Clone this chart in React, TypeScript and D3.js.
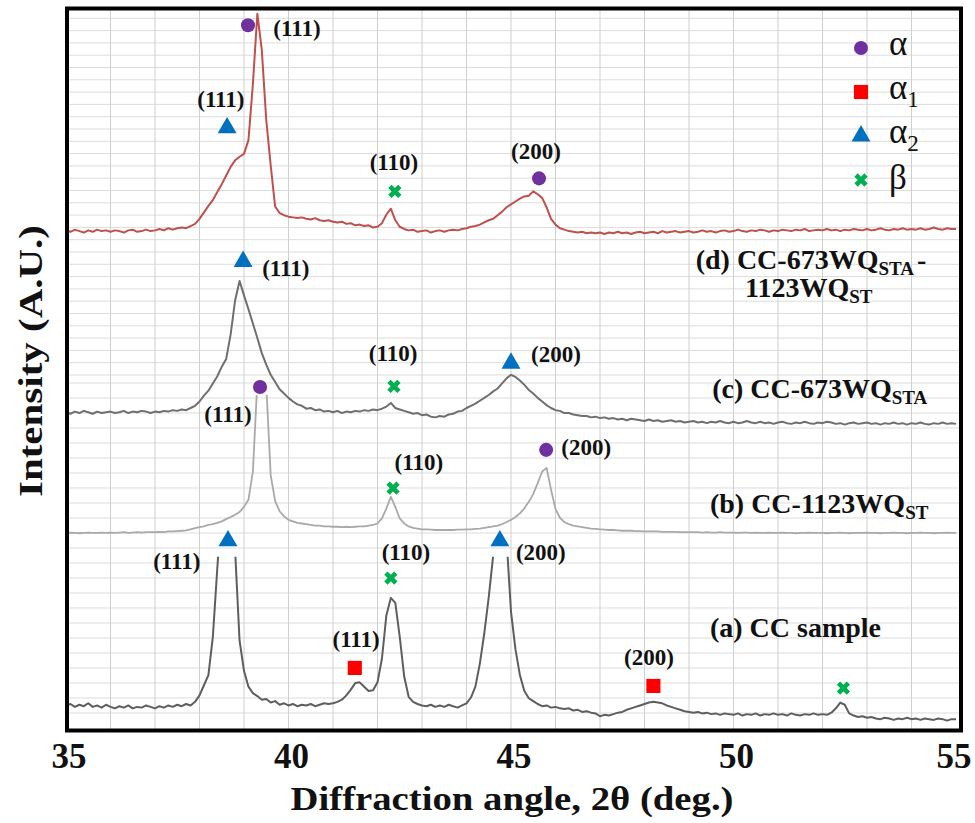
import React from "react";
import * as d3 from "d3";

// ---------- data ----------
// 2θ sampling grid (deg.)
const angles: number[] = d3.range(0, 201).map((i) => +(35 + i * 0.1).toFixed(1));

// relative intensities (A.U.), one value per 0.1°, 35.0 → 55.0
const seriesA: number[] = [
  0.0, 0.2, -0.2, 0.1, -0.1, 0.3, -0.2, 0.0, -0.3, 0.1,
  -0.2, -0.4, -0.1, -0.3, 0.0, -0.4, -0.2, -0.3, 0.0, -0.2,
  -0.4, -0.1, -0.3, 0.0, -0.2, 0.1, -0.1, 0.2, 0.0, 0.5,
  1.4, 2.8, 4.2, 9.5, 19.0, 28, 31, 28, 21.5, 9.0,
  4.8, 2.6, 1.7, 1.3, 0.8, 0.9, 0.4, 0.6, 0.1, 0.3,
  0.0, 0.2, -0.1, 0.1, 0.0, 0.2, -0.1, 0.1, 0.3, 0.2,
  0.3, 0.5, 0.8, 1.4, 2.2, 3.1, 3.2, 2.6, 2.0, 2.1,
  3.2, 6.5, 12.5, 14.9, 14.2, 9.5, 4.0, 1.2, 0.5, 0.2,
  0.0, -0.1, 0.1, -0.2, 0.0, -0.2, 0.1, -0.1, -0.3, 0.0,
  0.3, 1.1, 2.6, 5.8, 10.0, 15.0, 20.8, 28, 30, 23,
  13.0, 7.8, 4.2, 2.0, 1.0, 0.6, 0.2, -0.1, 0.0, -0.3,
  -0.2, -0.4, -0.5, -0.4, -0.7, -0.6, -0.9, -0.8, -1.0, -1.1,
  -1.5, -1.3, -1.4, -1.2, -1.0, -0.9, -0.6, -0.4, -0.2, 0.0,
  0.2, 0.4, 0.5, 0.4, 0.3, 0.0, -0.2, -0.4, -0.6, -0.8,
  -0.9, -1.0, -0.9, -1.1, -1.0, -1.2, -1.1, -1.3, -1.1, -1.2,
  -1.3, -1.1, -1.4, -1.2, -1.3, -1.1, -1.4, -1.2, -1.3, -1.1,
  -1.3, -1.2, -1.4, -1.1, -1.3, -1.4, -1.2, -1.3, -1.1, -1.3,
  -1.2, -1.3, -1.0, -0.4, 0.4, 0.1, -1.1, -1.4, -1.6, -1.5,
  -1.7, -1.6, -1.8, -1.9, -1.7, -1.8, -2.0, -1.8, -1.9, -1.7,
  -1.9, -1.8, -2.0, -1.8, -1.9, -2.0, -1.8, -1.9, -2.1, -1.9,
  -1.9,
];

const seriesB: number[] = [
  0.0, 0.05, 0.0, -0.05, 0.0, 0.05, 0.0, 0.0, 0.05, 0.0,
  0.05, 0.0, 0.05, 0.1, 0.0, 0.05, 0.1, 0.05, 0.1, 0.1,
  0.1, 0.15, 0.1, 0.2, 0.2, 0.25, 0.3, 0.35, 0.5, 0.65,
  0.8, 0.9, 1.1, 1.2, 1.4, 1.6, 1.9, 2.2, 2.5, 2.9,
  3.6, 4.6, 8.5, 21, 26, 20.5, 8.0, 4.4, 3.0, 2.3,
  1.8, 1.6, 1.4, 1.3, 1.2, 1.1, 1.0, 1.0, 0.9, 0.9,
  0.85, 0.85, 0.8, 0.85, 0.8, 0.85, 0.9, 0.9, 1.0, 1.1,
  1.3, 2.0, 3.4, 5.0, 3.6, 2.0, 1.3, 0.9, 0.7, 0.6,
  0.5, 0.5, 0.45, 0.4, 0.4, 0.4, 0.4, 0.4, 0.45, 0.45,
  0.5, 0.5, 0.55, 0.6, 0.7, 0.8, 0.9, 1.0, 1.2, 1.5,
  1.8, 2.2, 2.7, 3.4, 4.3, 5.4, 6.9, 8.5, 9.0, 6.0,
  3.3, 2.1, 1.5, 1.2, 1.0, 0.9, 0.8, 0.7, 0.6, 0.55,
  0.5, 0.45, 0.4, 0.4, 0.35, 0.3, 0.3, 0.3, 0.25, 0.25,
  0.2, 0.2, 0.2, 0.2, 0.15, 0.15, 0.15, 0.15, 0.1, 0.1,
  0.1, 0.1, 0.1, 0.05, 0.1, 0.05, 0.05, 0.1, 0.05, 0.05,
  0.05, 0.0, 0.05, 0.05, 0.0, 0.05, 0.0, 0.0, 0.05, 0.0,
  0.0, 0.05, 0.0, 0.0, -0.05, 0.0, 0.0, 0.05, 0.0, 0.0,
  0.0, -0.05, 0.0, 0.0, 0.05, 0.0, -0.05, 0.0, 0.0, 0.0,
  0.05, 0.0, 0.0, -0.05, 0.0, 0.0, 0.05, 0.0, 0.0, -0.05,
  0.0, 0.0, 0.05, 0.0, 0.0, -0.05, 0.0, 0.0, 0.05, 0.0,
  0.0,
];

const seriesC: number[] = [
  0.0, -0.2, 0.1, -0.1, 0.2, 0.0, -0.2, 0.1, -0.1, 0.0,
  0.1, -0.1, 0.0, 0.2, -0.1, 0.1, 0.0, 0.2, 0.1, -0.1,
  0.1, 0.0, 0.2, 0.1, 0.3, 0.2, 0.4, 0.3, 0.6, 0.9,
  1.5, 2.3, 3.0, 4.0, 5.0, 6.3, 7.4, 10.8, 15.5, 18.2,
  16.2, 14.3, 12.3, 10.3, 8.2, 6.6, 5.2, 4.2, 3.2, 2.6,
  2.0, 1.5, 1.1, 0.9, 0.5, 0.6, 0.3, 0.4, 0.1, 0.2,
  0.0, 0.2, -0.1, 0.1, 0.0, 0.2, 0.1, 0.3, 0.2, 0.4,
  0.3, 0.5, 0.8, 1.3, 0.6, 0.4, 0.2, 0.0, -0.2, -0.1,
  -0.4, -0.3, -0.6, -0.7, -0.5, -0.6, -0.3, -0.2, 0.1, 0.2,
  0.6, 0.9, 1.2, 1.6, 2.0, 2.4, 2.9, 3.3, 4.0, 4.7,
  5.2, 4.9, 4.4, 3.8, 3.1, 2.6, 2.0, 1.5, 1.0, 0.6,
  0.3, 0.2, -0.1, -0.1, -0.3, -0.4, -0.5, -0.5, -0.7, -0.6,
  -0.8, -0.7, -0.9, -0.8, -1.0, -0.9, -1.1, -0.9, -1.0, -1.1,
  -1.2, -1.0, -1.2, -1.1, -1.3, -1.2, -1.1, -1.3, -1.2, -1.4,
  -1.3, -1.2, -1.4, -1.3, -1.5, -1.3, -1.4, -1.2, -1.4, -1.5,
  -1.3, -1.5, -1.4, -1.2, -1.4, -1.5, -1.3, -1.5, -1.4, -1.6,
  -1.4, -1.3, -1.5, -1.6, -1.4, -1.5, -1.3, -1.5, -1.6, -1.4,
  -1.5, -1.3, -1.4, -1.6, -1.5, -1.7, -1.5, -1.4, -1.6, -1.5,
  -1.4, -1.6, -1.5, -1.7, -1.5, -1.6, -1.4, -1.6, -1.5, -1.7,
  -1.5, -1.6, -1.4, -1.6, -1.7, -1.5, -1.6, -1.4, -1.6, -1.5,
  -1.6,
];

const seriesD: number[] = [
  0.2, 0.0, 0.3, 0.1, -0.1, 0.2, 0.0, 0.3, 0.1, 0.2,
  0.0, 0.2, 0.1, -0.1, 0.2, 0.3, 0.0, 0.1, 0.3, 0.1,
  0.2, 0.4, 0.2, 0.5, 0.3, 0.5, 0.6, 0.5, 0.8, 1.1,
  1.8, 2.7, 3.6, 4.4, 5.5, 6.6, 7.8, 9.0, 9.9, 10.4,
  10.8, 12.7, 20.5, 30.2, 25.2, 15.5, 9.2, 3.5, 2.6, 2.3,
  2.1, 2.0, 1.9, 2.0, 1.8, 1.7, 1.9, 1.6, 1.5, 1.6,
  1.4, 1.3, 1.4, 1.1, 1.2, 0.9, 1.0, 0.8, 0.9, 0.6,
  0.7, 1.2, 2.4, 3.2, 1.6, 0.7, 0.4, 0.2, 0.3, 0.0,
  0.1, 0.2, -0.1, 0.1, 0.2, 0.0, 0.2, 0.3, 0.2, 0.4,
  0.5, 0.7, 0.8, 1.0, 1.3, 1.6, 1.8, 2.3, 2.8, 3.4,
  3.8, 4.2, 4.6, 4.9, 5.0, 5.6, 5.2, 4.7, 3.4, 1.8,
  1.0, 0.5, 0.3, 0.1, 0.0, -0.1, 0.0, -0.2, -0.1, -0.2,
  -0.1, -0.3, -0.1, -0.2, 0.0, -0.2, -0.1, -0.3, -0.1, 0.0,
  -0.2, -0.1, 0.0, -0.2, 0.1, -0.1, 0.0, 0.1, -0.1, 0.0,
  0.1, -0.1, 0.0, 0.2, 0.0, 0.1, -0.1, 0.1, 0.2, 0.0,
  0.1, 0.3, 0.1, 0.0, 0.2, 0.1, 0.3, 0.2, 0.0, 0.2,
  0.1, 0.3, 0.2, 0.1, 0.3, 0.2, 0.4, 0.1, 0.2, 0.3,
  0.2, 0.4, 0.2, 0.3, 0.1, 0.3, 0.2, 0.4, 0.3, 0.2,
  0.4, 0.2, 0.3, 0.5, 0.3, 0.2, 0.4, 0.3, 0.5, 0.3,
  0.4, 0.3, 0.5, 0.3, 0.4, 0.6, 0.4, 0.3, 0.5, 0.4,
  0.4,
];

const sampleKeys = ["a", "b", "c", "d"];
const sampleSeries = [seriesA, seriesB, seriesC, seriesD];
const sampleOffsets = [3.4, 27.3, 44, 69];
// top of the visible trace (peaks above are cut off in the figure)
const sampleCeilings = [24.0, 46.4, 100, 100];

// phase markers: phase, 2θ, intensity
const markerPhases = ["alpha2", "beta", "alpha1", "alpha2", "alpha1", "beta",
  "alpha", "beta", "alpha",
  "alpha2", "beta", "alpha2",
  "alpha", "alpha2", "beta", "alpha"];
const markerAngles = [38.64, 42.3, 41.49, 44.75, 48.2, 52.47,
  39.36, 42.35, 45.79,
  38.98, 42.37, 45.0,
  39.09, 38.62, 42.39, 45.63];
const markerLevels = [26.2, 21.05, 8.6, 26.2, 6.1, 5.8,
  47.5, 33.5, 38.8,
  64.9, 47.6, 50.8,
  97.6, 83.4, 74.6, 76.4];

// Miller-index labels
const hklTexts = ["(111)", "(110)", "(200)", "(111)", "(200)",
  "(111)", "(110)", "(200)",
  "(111)", "(110)", "(200)",
  "(111)", "(111)", "(110)", "(200)"];
const hklAngles = [37.49, 42.64, 45.67, 41.52, 48.1,
  38.64, 42.93, 46.69,
  39.94, 42.35, 46.01,
  40.19, 38.48, 42.37, 45.56];
const hklLevels = [22.3, 23.5, 23.5, 11.5, 9.0,
  42.7, 36.0, 38.1,
  62.9, 51.1, 51.0,
  96.1, 86.3, 77.6, 79.1];

// sample names: main text, subscript, trailing text
const sampleLabelMain = ["(a) CC sample", "(b) CC-1123WQ", "(c) CC-673WQ", "(d) CC-673WQ", "1123WQ"];
const sampleLabelSub = ["", "ST", "STA", "STA", "ST"];
const sampleLabelTail = ["", "", "", "-", ""];
const sampleLabelAngles = [49.47, 49.47, 49.52, 49.15, 50.26];
const sampleLabelLevels = [12.9, 30.1, 46.0, 63.9, 60.0];

const xTicks = [35, 40, 45, 50, 55];
const legendPhases = ["alpha", "alpha1", "alpha2", "beta"];
const legendSymbols = ["α", "α", "α", "β"];
const legendSubs = ["", "1", "2", ""];

// ---------- styles ----------
const FONT = "'Liberation Serif', 'Times New Roman', Times, serif";
const lineColors = ["#5e5e5e", "#a9a9a9", "#6f6f6f", "#c0504d"];
const lineWidths = [2, 1.8, 2, 2];
const phaseColors: Record<string, string> = {
  alpha: "#7030a0",
  alpha1: "#ff0000",
  alpha2: "#0070c0",
  beta: "#00b050",
};
const phasePaths: Record<string, string> = {
  alpha: d3.symbol(d3.symbolCircle, 155)() as string,
  alpha1: d3.symbol(d3.symbolSquare, 200)() as string,
  alpha2: d3.symbol(d3.symbolTriangle, 155)() as string,
  beta: d3.symbol(d3.symbolCross, 110)() as string,
};
const phaseRotation: Record<string, number> = { alpha: 0, alpha1: 0, alpha2: 0, beta: 45 };

export default function App() {
  const W = 975;
  const H = 823;
  const x = d3.scaleLinear().domain([35, 55]).range([66, 956]);
  const y = d3.scaleLinear().domain([0, 100]).range([730, 8]);

  const frame = { left: 67, top: 8.5, right: 961, bottom: 730.5 };

  const vGrid = d3.range(36, 55, 1);
  const hGrid = [...d3.range(2.355, 49, 2.0776), ...d3.range(49.17, 99, 1.7036)];

  const line = d3
    .line<number>()
    .x((_, i) => x(angles[i]))
    .y((v) => y(v))
    .curve(d3.curveLinear);

  return (
    <svg
      width={W}
      height={H}
      viewBox={`0 0 ${W} ${H}`}
      style={{ position: "absolute", left: 0, top: 0, background: "#fff" }}
      fontFamily={FONT}
    >
      <defs>
        <clipPath id="plotClip">
          <rect x={frame.left} y={frame.top} width={frame.right - frame.left} height={frame.bottom - frame.top} />
        </clipPath>
        {sampleKeys.map((k, i) => (
          <clipPath id={`ceil-${k}`} key={k}>
            <rect
              x={frame.left}
              y={y(sampleCeilings[i])}
              width={frame.right - frame.left}
              height={frame.bottom - y(sampleCeilings[i])}
            />
          </clipPath>
        ))}
      </defs>
      <rect x={0} y={0} width={W} height={H} fill="#fff" />

      {/* grid */}
      <g clipPath="url(#plotClip)">
        {hGrid.map((v, i) => (
          <line key={`h${i}`} x1={frame.left} x2={frame.right} y1={y(v)} y2={y(v)} stroke="#dcdcdc" strokeWidth={1} />
        ))}
        {vGrid.map((v) => (
          <line key={`v${v}`} x1={x(v)} x2={x(v)} y1={frame.top} y2={frame.bottom} stroke="#cfcfcf" strokeWidth={1} />
        ))}
      </g>

      {/* traces */}
      <g clipPath="url(#plotClip)">
        {sampleKeys.map((k, i) => (
          <g key={k} clipPath={`url(#ceil-${k})`}>
            <path
              d={line(sampleSeries[i].map((v) => v + sampleOffsets[i])) || ""}
              fill="none"
              stroke={lineColors[i]}
              strokeWidth={lineWidths[i]}
              strokeLinejoin="round"
            />
          </g>
        ))}
      </g>

      {/* phase markers */}
      {markerPhases.map((p, i) => (
        <path
          key={`m${i}`}
          d={phasePaths[p]}
          fill={phaseColors[p]}
          transform={`translate(${x(markerAngles[i])},${y(markerLevels[i])}) rotate(${phaseRotation[p]})`}
        />
      ))}

      {/* hkl labels */}
      {hklTexts.map((t, i) => (
        <text
          key={`t${i}`}
          x={x(hklAngles[i])}
          y={y(hklLevels[i])}
          textAnchor="middle"
          fontWeight="bold"
          fontSize={23}
          fill="#111"
        >
          {t}
        </text>
      ))}

      {/* sample labels */}
      {sampleLabelMain.map((t, i) => (
        <text
          key={`s${i}`}
          x={x(sampleLabelAngles[i])}
          y={y(sampleLabelLevels[i])}
          fontWeight="bold"
          fontSize={28}
          fill="#111"
        >
          {t}
          {sampleLabelSub[i] && (
            <tspan fontSize={19} dy={6}>
              {sampleLabelSub[i]}
            </tspan>
          )}
          {sampleLabelTail[i] && (
            <tspan dy={-6} dx={3}>
              {sampleLabelTail[i]}
            </tspan>
          )}
        </text>
      ))}

      {/* legend */}
      {legendPhases.map((p, i) => {
        const cy = 48 + i * 44;
        return (
          <g key={p}>
            <path d={phasePaths[p]} fill={phaseColors[p]} transform={`translate(861,${cy}) rotate(${phaseRotation[p]})`} />
            <text x={889} y={cy + (p === "beta" ? 9 : 7)} fontSize={35} fill="#111">
              {legendSymbols[i]}
              {legendSubs[i] && (
                <tspan fontSize={23} dy={8}>
                  {legendSubs[i]}
                </tspan>
              )}
            </text>
          </g>
        );
      })}

      {/* frame */}
      <rect
        x={frame.left}
        y={frame.top}
        width={frame.right - frame.left}
        height={frame.bottom - frame.top}
        fill="none"
        stroke="#000"
        strokeWidth={4}
      />

      {/* x axis tick labels */}
      {xTicks.map((v) => (
        <text key={`xt${v}`} x={Math.min(x(v) + 3, 954)} y={768} textAnchor="middle" fontWeight="bold" fontSize={35} fill="#111">
          {v}
        </text>
      ))}
      <text
        x={512}
        y={810}
        textAnchor="middle"
        fontWeight="bold"
        fontSize={33}
        fill="#111"
        textLength={443}
        lengthAdjust="spacingAndGlyphs"
      >
        Diffraction angle, 2θ (deg.)
      </text>
      <text
        transform={`translate(42,361) rotate(-90)`}
        textAnchor="middle"
        fontWeight="bold"
        fontSize={33}
        fill="#111"
        textLength={272}
        lengthAdjust="spacingAndGlyphs"
      >
        Intensity (A.U.)
      </text>
    </svg>
  );
}
